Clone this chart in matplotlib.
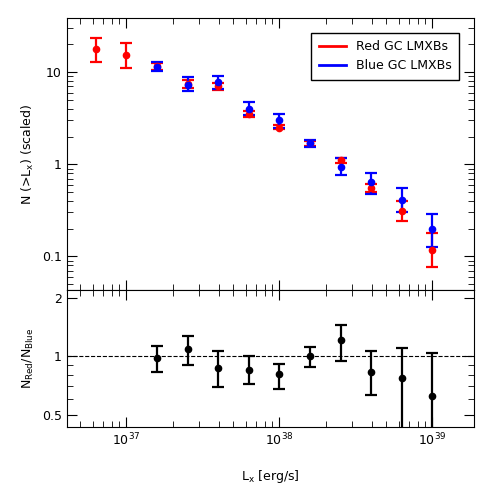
import numpy as np
import matplotlib
matplotlib.use("Agg")
import matplotlib.pyplot as plt
from matplotlib.ticker import FixedLocator, NullFormatter, FixedFormatter
from matplotlib.lines import Line2D

logLx_red = [36.8,37.0,37.2,37.4,37.6,37.8,38.0,38.2,38.4,38.6,38.8,39.0]
red_val = [17.8,15.3,11.6,7.4,7.0,3.5,2.5,1.7,1.1,0.56,0.31,0.116]
red_hi  = [23.4,21.0,12.5,8.2,7.7,3.75,2.65,1.8,1.18,0.61,0.40,0.18]
red_lo  = [12.8,11.0,10.6,6.8,6.4,3.3,2.4,1.6,1.03,0.50,0.24,0.076]
logLx_blue = [37.2,37.4,37.6,37.8,38.0,38.2,38.4,38.6,38.8,39.0]
blue_val = [11.5,7.3,7.8,4.0,3.0,1.7,0.93,0.64,0.41,0.20]
blue_hi  = [12.8,8.8,9.1,4.7,3.5,1.85,1.17,0.80,0.55,0.29]
blue_lo  = [10.3,6.2,6.6,3.4,2.5,1.55,0.76,0.48,0.30,0.125]
ratio_val = [0.98,1.09,0.87,0.85,0.81,1.01,1.21,0.83,0.77,0.62]
ratio_hi  = [1.13,1.27,1.06,1.00,0.91,1.12,1.46,1.06,1.10,1.04]
ratio_lo  = [0.83,0.90,0.69,0.72,0.68,0.88,0.95,0.63,0.40,0.40]

fig = plt.figure(figsize=(4.91,4.91), dpi=100)
ax1 = fig.add_axes([0.136,0.409,0.829,0.554])
ax2 = fig.add_axes([0.136,0.130,0.829,0.279], sharex=ax1)

def eb(ax, lx, v, hi, lo, c):
    x = 10**np.array(lx); v=np.array(v)
    ax.errorbar(x, v, yerr=[v-np.array(lo), np.array(hi)-v], fmt='o', color=c,
                ms=4.5, capsize=4, elinewidth=1.6, capthick=1.6)

eb(ax1, logLx_red, red_val, red_hi, red_lo, 'red')
eb(ax1, logLx_blue, blue_val, blue_hi, blue_lo, 'blue')
eb(ax2, logLx_blue, ratio_val, ratio_hi, ratio_lo, 'black')
ax2.axhline(1, color='black', ls='--', lw=0.8)

for ax in (ax1, ax2):
    ax.set_xscale('log'); ax.set_yscale('log')
    ax.tick_params(which='both', direction='in', top=True, right=True, labelsize=9)
    ax.tick_params(which='major', length=7)
    ax.tick_params(which='minor', length=4)
ax1.set_xlim(10**36.61, 10**39.27)
ax1.set_ylim(0.043, 38.6)
ax1.yaxis.set_major_locator(FixedLocator([0.1,1,10]))
ax1.yaxis.set_major_formatter(FixedFormatter(['0.1','1','10']))
ax1.yaxis.set_minor_formatter(NullFormatter())
plt.setp(ax1.get_xticklabels(), visible=False)
ax2.set_ylim(0.43, 2.2)
ax2.yaxis.set_major_locator(FixedLocator([0.5,1,2]))
ax2.yaxis.set_major_formatter(FixedFormatter(['0.5','1','2']))
ax2.yaxis.set_minor_formatter(NullFormatter())
ax1.set_ylabel(r'N (>L$_{\rm x}$) (scaled)', fontsize=9)
ax2.set_ylabel(r'N$_{\rm Red}$/N$_{\rm Blue}$', fontsize=9)
ax2.set_xlabel(r'L$_{\rm x}$ [erg/s]', fontsize=9, labelpad=14)
handles = [Line2D([], [], color='red', lw=2), Line2D([], [], color='blue', lw=2)]
ax1.legend(handles, ['Red GC LMXBs', 'Blue GC LMXBs'], loc='upper right',
           bbox_to_anchor=(0.98, 0.97), fontsize=9, fancybox=False,
           edgecolor='black', handlelength=2.2, borderpad=0.6, framealpha=1)
fig.savefig('out.png', dpi=100)
